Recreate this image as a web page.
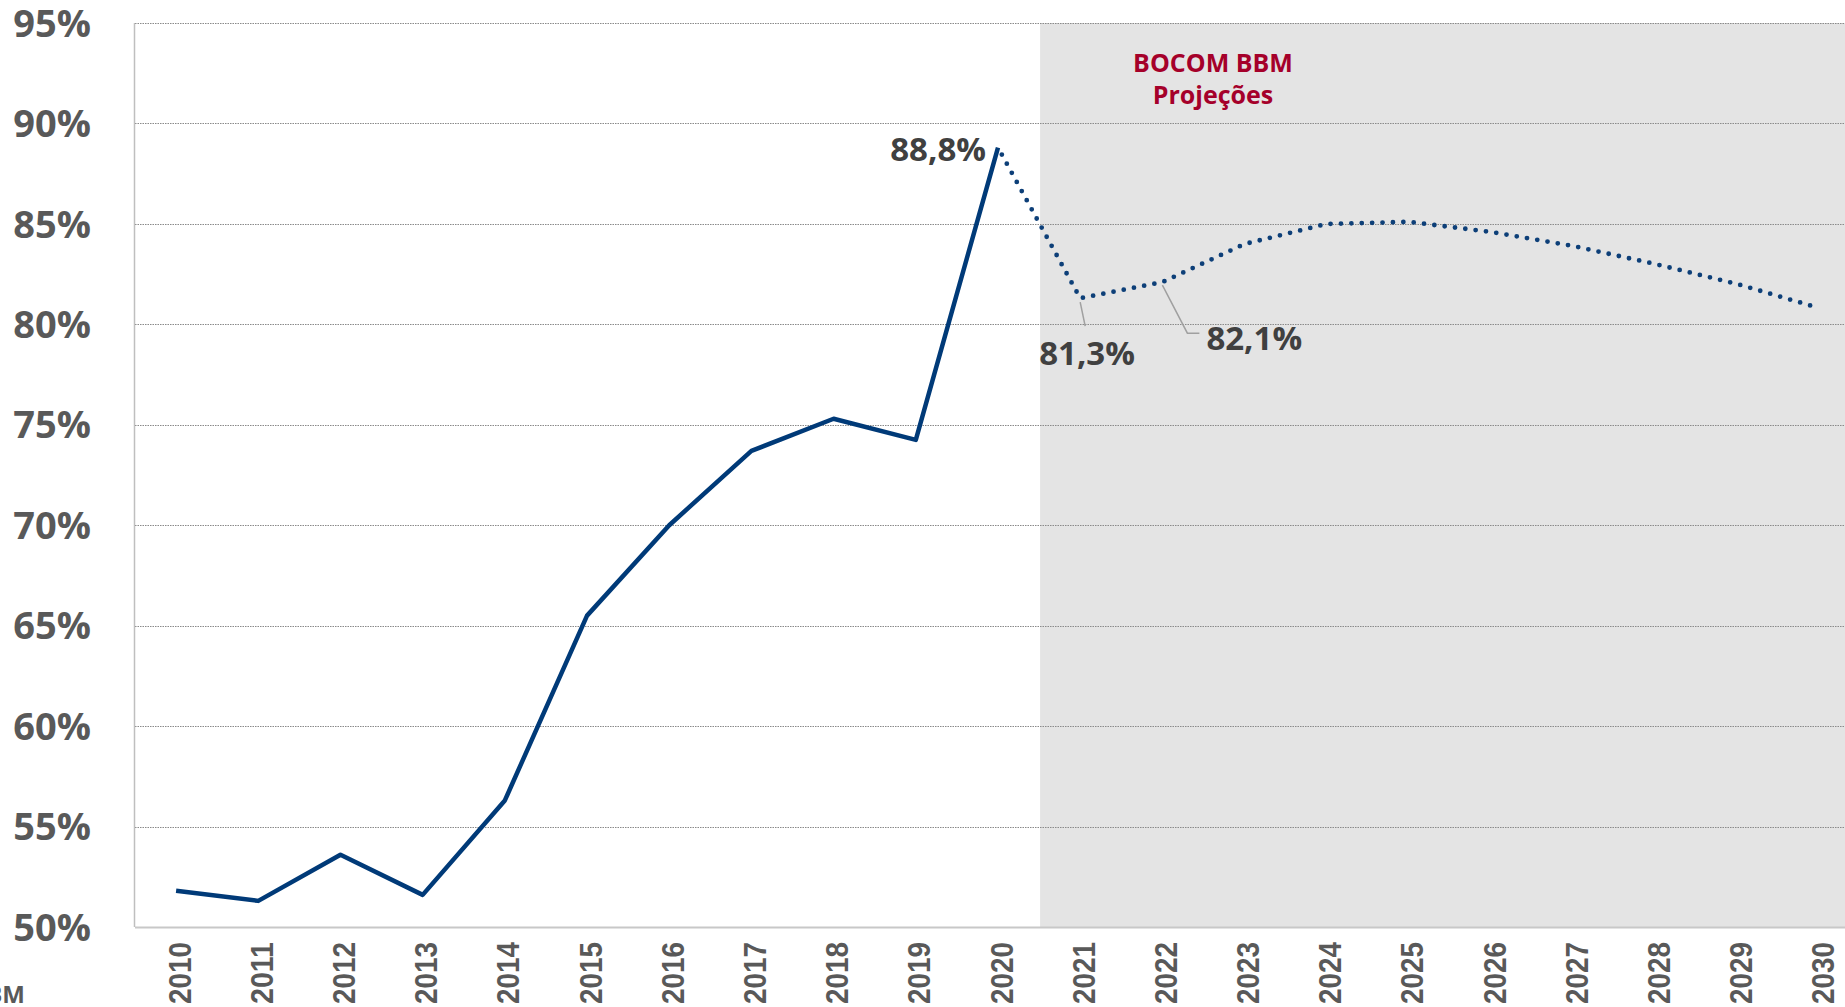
<!DOCTYPE html>
<html>
<head>
<meta charset="utf-8">
<script src="https://cdn.jsdelivr.net/npm/d3@7"></script>
<style>
  body { margin: 0; background: #fff; }
  svg { display: block; }
</style>
</head>
<body>
<div id="chart"></div>
<script>
// chart size
const width = 1845;
const height = 1007;
const margin = { top: 23, right: -16, bottom: 80, left: 135 };

// data
const years = ["2010", "2011", "2012", "2013", "2014", "2015", "2016", "2017", "2018", "2019", "2020",
  "2021", "2022", "2023", "2024", "2025", "2026", "2027", "2028", "2029", "2030"];
const values = [51.8, 51.3, 53.6, 51.6, 56.3, 65.5, 70.0, 73.7, 75.3, 74.25, 88.8,
  81.3, 82.1, 84.0, 85.0, 85.1, 84.6, 83.9, 83.0, 82.0, 80.8];
const yTicks = [50, 55, 60, 65, 70, 75, 80, 85, 90, 95];
const lastActual = "2020";
const labelled = ["2020", "2021", "2022"];
const titleLines = ["BOCOM BBM", "Projeções"];

const data = years.map((y, i) => ({ year: y, value: values[i] }));
const actual = data.filter((d) => +d.year <= +lastActual);
const projected = data.filter((d) => +d.year >= +lastActual);

const x = d3
  .scaleBand()
  .domain(years)
  .range([margin.left, width - margin.right])
  .padding(0);
const xc = (d) => x(d) + x.bandwidth() / 2;

const y = d3
  .scaleLinear()
  .domain([50, 95])
  .range([height - margin.bottom, margin.top]);

const svg = d3
  .select("#chart")
  .append("svg")
  .attr("width", width)
  .attr("height", height);

const font = "'Open Sans', 'DejaVu Sans', sans-serif";

// projection shading
const shadeX = x(years[years.indexOf(lastActual) + 1]) + 1;
svg
  .append("rect")
  .attr("x", shadeX)
  .attr("y", y(95))
  .attr("width", width - shadeX)
  .attr("height", y(50) - y(95))
  .attr("fill", "#e4e4e4");

// gridlines
svg
  .append("g")
  .selectAll("line")
  .data(yTicks.filter((t) => t > 50))
  .enter()
  .append("line")
  .attr("x1", margin.left)
  .attr("x2", width)
  .attr("y1", (d) => Math.round(y(d)) + 0.5)
  .attr("y2", (d) => Math.round(y(d)) + 0.5)
  .attr("stroke", "#8a8a8a")
  .attr("stroke-width", 1)
  .attr("stroke-dasharray", "1.5 1");

// axis lines
svg
  .append("line")
  .attr("x1", margin.left - 0.5)
  .attr("x2", margin.left - 0.5)
  .attr("y1", y(95))
  .attr("y2", y(50))
  .attr("stroke", "#bfbfbf")
  .attr("stroke-width", 1.5);

svg
  .append("line")
  .attr("x1", margin.left)
  .attr("x2", width)
  .attr("y1", y(50) + 0.5)
  .attr("y2", y(50) + 0.5)
  .attr("stroke", "#c8c8c8")
  .attr("stroke-width", 2);

// y tick labels
svg
  .append("g")
  .selectAll("text")
  .data(yTicks)
  .enter()
  .append("text")
  .attr("x", 91)
  .attr("y", (d) => y(d))
  .attr("dy", "0.36em")
  .attr("text-anchor", "end")
  .style("font-family", font)
  .style("font-weight", "bold")
  .style("font-size", "38px")
  .attr("fill", "#595959")
  .text((d) => d + "%");

// x tick labels
svg
  .append("g")
  .selectAll("text")
  .data(years)
  .enter()
  .append("text")
  .attr("transform", (d) => `translate(${xc(d) + 3},942) rotate(-90)`)
  .attr("dy", "0.36em")
  .attr("text-anchor", "end")
  .attr("textLength", 62)
  .attr("lengthAdjust", "spacingAndGlyphs")
  .style("font-family", "'Liberation Sans', Arial, sans-serif")
  .style("font-weight", "bold")
  .style("font-size", "32px")
  .attr("fill", "#595959")
  .text((d) => d);

// source (cut at the left edge)
svg
  .append("text")
  .attr("x", 25)
  .attr("y", 1003)
  .attr("text-anchor", "end")
  .style("font-family", font)
  .style("font-weight", "bold")
  .style("font-size", "24px")
  .attr("fill", "#595959")
  .text("BBM");

// lines
const line = d3
  .line()
  .x((d) => xc(d.year))
  .y((d) => y(d.value));

svg
  .append("path")
  .datum(actual)
  .attr("d", line)
  .attr("fill", "none")
  .attr("stroke", "#003a78")
  .attr("stroke-width", 4.5)
  .attr("stroke-linejoin", "round");

svg
  .append("path")
  .datum(projected)
  .attr("d", line)
  .attr("fill", "none")
  .attr("stroke", "#0d3f78")
  .attr("stroke-width", 4.8)
  .attr("stroke-linecap", "round")
  .attr("stroke-dasharray", "0 10.4")
  .attr("stroke-dashoffset", -8);

// data labels
const fmt = (v) => v.toFixed(1).replace(".", ",") + "%";
const pt = (yr) => data.find((d) => d.year === yr);

const p20 = pt(labelled[0]);
svg
  .append("text")
  .attr("x", xc(p20.year) - 12)
  .attr("y", y(p20.value) + 13)
  .attr("text-anchor", "end")
  .style("font-family", font)
  .style("font-weight", "bold")
  .style("font-size", "33px")
  .attr("fill", "#404040")
  .text(fmt(p20.value));

const p21 = pt(labelled[1]);
svg
  .append("path")
  .attr("d", `M${xc(p21.year)},${y(p21.value) + 4}L${xc(p21.year) + 5},${y(p21.value) + 28}`)
  .attr("fill", "none")
  .attr("stroke", "#a0a0a0")
  .attr("stroke-width", 1.5);
svg
  .append("text")
  .attr("x", xc(p21.year) - 41)
  .attr("y", y(p21.value) + 67)
  .style("font-family", font)
  .style("font-weight", "bold")
  .style("font-size", "33px")
  .attr("fill", "#404040")
  .text(fmt(p21.value));

const p22 = pt(labelled[2]);
svg
  .append("path")
  .attr(
    "d",
    `M${xc(p22.year)},${y(p22.value) + 3}L${xc(p22.year) + 25},${y(p22.value) + 51}L${xc(p22.year) + 37},${y(p22.value) + 51}`
  )
  .attr("fill", "none")
  .attr("stroke", "#a0a0a0")
  .attr("stroke-width", 1.5);
svg
  .append("text")
  .attr("x", xc(p22.year) + 44)
  .attr("y", y(p22.value) + 68)
  .style("font-family", font)
  .style("font-weight", "bold")
  .style("font-size", "33px")
  .attr("fill", "#404040")
  .text(fmt(p22.value));

// projection title
svg
  .append("g")
  .selectAll("text")
  .data(titleLines)
  .enter()
  .append("text")
  .attr("x", 1213)
  .attr("y", (d, i) => 72 + i * 32)
  .attr("text-anchor", "middle")
  .style("font-family", font)
  .style("font-weight", "bold")
  .style("font-size", "25px")
  .attr("fill", "#a5002a")
  .text((d) => d);
</script>
</body>
</html>
